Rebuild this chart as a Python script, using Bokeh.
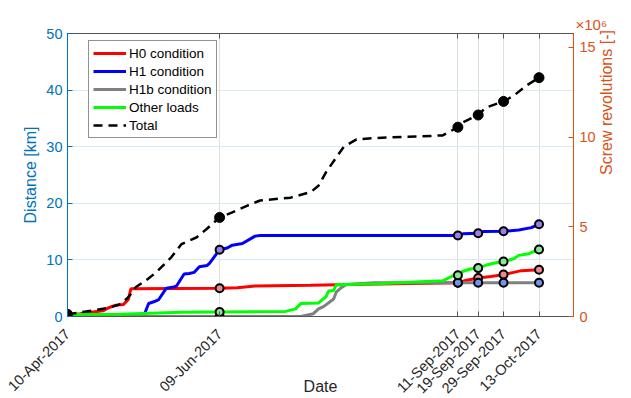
import math
import pandas as pd
from bokeh.plotting import figure
from bokeh.models import (Range1d, LinearAxis, DatetimeAxis, FixedTicker, DatetimeTickFormatter,
                          CustomJSTickFormatter, Legend, LegendItem)
from bokeh.embed import file_html
from bokeh.resources import INLINE

# ---------------- data (km) ----------------
tick_dates = ["2017-04-10", "2017-06-09", "2017-09-11", "2017-09-19", "2017-09-29", "2017-10-13"]
marker_dates = ["2017-06-09", "2017-09-11", "2017-09-19", "2017-09-29", "2017-10-13"]
total_marker_dates = ["2017-04-10"] + marker_dates

H0_dates = ["2017-04-10", "2017-04-15", "2017-04-20", "2017-04-24", "2017-04-26", "2017-04-29",
            "2017-05-02", "2017-05-04", "2017-05-05", "2017-06-09", "2017-06-16", "2017-06-23",
            "2017-07-15", "2017-08-05", "2017-09-11", "2017-09-14", "2017-09-19", "2017-09-24",
            "2017-09-29", "2017-10-03", "2017-10-06", "2017-10-13"]
H0_km = [0.3, 0.5, 0.8, 1.0, 1.5, 2.0, 2.1, 3.0, 4.9, 5.0, 5.1, 5.4, 5.5, 5.7, 5.95, 6.35,
         6.8, 7.05, 7.4, 7.8, 8.1, 8.25]

H1_dates = ["2017-04-10", "2017-05-10", "2017-05-12", "2017-05-14", "2017-05-16", "2017-05-19",
            "2017-05-22", "2017-05-23", "2017-05-26", "2017-05-28", "2017-05-30", "2017-06-01",
            "2017-06-04", "2017-06-05", "2017-06-09", "2017-06-12", "2017-06-14", "2017-06-18",
            "2017-06-23", "2017-06-25", "2017-09-11", "2017-09-13", "2017-09-19", "2017-09-21",
            "2017-09-29", "2017-10-05", "2017-10-10", "2017-10-13"]
H1_km = [0, 0, 2.3, 2.6, 3.0, 5.0, 5.2, 5.4, 7.5, 7.6, 7.8, 8.8, 9.0, 9.4, 11.8, 12.1, 12.6,
         12.9, 14.2, 14.3, 14.3, 14.6, 14.7, 15.0, 15.05, 15.3, 15.7, 16.3]

H1b_dates = ["2017-04-10", "2017-06-09", "2017-07-11", "2017-07-16", "2017-07-18", "2017-07-20",
             "2017-07-24", "2017-07-25", "2017-07-27", "2017-07-29", "2017-08-09", "2017-09-11",
             "2017-09-19", "2017-09-29", "2017-10-13"]
H1b_km = [0, 0, 0, 0.5, 1.35, 1.75, 3.1, 4.3, 5.1, 5.65, 5.95, 5.95, 5.95, 5.95, 5.95]

Other_dates = ["2017-04-10", "2017-05-01", "2017-05-25", "2017-06-09", "2017-07-05", "2017-07-09",
               "2017-07-11", "2017-07-18", "2017-07-21", "2017-07-22", "2017-07-24", "2017-07-25",
               "2017-08-10", "2017-09-05", "2017-09-09", "2017-09-11", "2017-09-13", "2017-09-16",
               "2017-09-19", "2017-09-23", "2017-09-27", "2017-09-29", "2017-10-03", "2017-10-05",
               "2017-10-09", "2017-10-13"]
Other_km = [0.35, 0.4, 0.75, 0.8, 0.9, 1.35, 2.3, 2.4, 3.5, 4.5, 4.6, 5.6, 5.8, 6.3, 7.2, 7.3,
            8.0, 8.4, 8.55, 9.2, 9.6, 9.7, 10.2, 10.8, 11.1, 11.85]

Total_dates = ["2017-04-10", "2017-04-20", "2017-04-26", "2017-05-01", "2017-05-04", "2017-05-07",
               "2017-05-11", "2017-05-15", "2017-05-21", "2017-05-25", "2017-05-31", "2017-06-04",
               "2017-06-09", "2017-06-14", "2017-06-20", "2017-06-25", "2017-07-07", "2017-07-15",
               "2017-07-18", "2017-07-21", "2017-07-25", "2017-07-28", "2017-08-02", "2017-08-12",
               "2017-08-26", "2017-09-05", "2017-09-11", "2017-09-13", "2017-09-19", "2017-09-22",
               "2017-09-29", "2017-10-03", "2017-10-08", "2017-10-13"]
Total_km = [0.4, 1.05, 1.5, 2.2, 3.4, 5.2, 6.4, 7.8, 10.5, 12.8, 14.0, 15.5, 17.5, 18.4, 19.6,
            20.5, 21.0, 22.0, 23.1, 25.5, 28.1, 30.0, 31.3, 31.6, 31.8, 32.0, 33.45, 34.3, 35.6,
            36.9, 38.0, 39.0, 40.8, 42.2]

left_ticks = [0, 10, 20, 30, 40, 50]
right_ticks = [0, 5e6, 10e6, 15e6]
rev_max = 15.77e6
days_span = 199.6

# ---------------- styling ----------------
FONT = "Liberation Sans"
AX_BLUE = "#0072BD"
AX_ORANGE = "#D95319"
DARK = "#262626"
BOX = "#555555"
TICK_FS = "14.5px"
LABEL_FS = "16px"


def dt(s):
    return pd.Timestamp(s).to_pydatetime()


def ms(ts):
    return pd.Timestamp(ts).timestamp() * 1000.0


def at(dates, vals, wanted):
    d = dict(zip(dates, vals))
    return [d[w] for w in wanted]


x0 = pd.Timestamp(tick_dates[0])
x1 = x0 + pd.Timedelta(days=days_span)

p = figure(width=631, height=398, x_axis_type="datetime", output_backend="svg",
           toolbar_location=None, x_range=Range1d(x0.to_pydatetime(), x1.to_pydatetime()),
           y_range=Range1d(0, 50), min_border_left=67, min_border_right=58,
           min_border_top=33, min_border_bottom=82)
p.background_fill_color = "white"
p.border_fill_color = "white"
p.outline_line_color = BOX
p.outline_line_width = 1

xt = FixedTicker(ticks=[ms(d) for d in tick_dates])
fmt = "%d-%b-%Y"
p.xaxis.ticker = xt
p.xaxis.formatter = DatetimeTickFormatter(microseconds=fmt, milliseconds=fmt, seconds=fmt,
                                          minsec=fmt, minutes=fmt, hourmin=fmt, hours=fmt,
                                          days=fmt, months=fmt, years=fmt)
p.xaxis.major_label_orientation = math.pi / 4
p.xaxis.major_label_text_font = FONT
p.xaxis.major_label_text_font_size = TICK_FS
p.xaxis.major_label_text_color = DARK
p.xaxis.axis_line_color = BOX
p.xaxis.major_tick_line_color = BOX
p.xaxis.major_tick_in = 5
p.xaxis.major_tick_out = 0
p.xaxis.minor_tick_line_color = None
p.xaxis.major_label_standoff = 15
p.xaxis.axis_label = "Date"
p.xaxis.axis_label_text_font = FONT
p.xaxis.axis_label_text_font_style = "normal"
p.xaxis.axis_label_text_font_size = LABEL_FS
p.xaxis.axis_label_text_color = DARK
p.xaxis.axis_label_standoff = -27

p.xgrid.ticker = xt
p.xgrid.grid_line_color = "#DFDFDF"
p.ygrid.grid_line_color = "#D9EAF5"

p.yaxis.ticker = FixedTicker(ticks=left_ticks)
p.yaxis.axis_label = "Distance [km]"
p.yaxis.axis_label_text_font = FONT
p.yaxis.axis_label_text_font_style = "normal"
p.yaxis.axis_label_text_font_size = LABEL_FS
p.yaxis.axis_label_text_color = AX_BLUE
p.yaxis.major_label_text_font = FONT
p.yaxis.major_label_text_font_size = TICK_FS
p.yaxis.major_label_text_color = AX_BLUE
p.yaxis.axis_line_color = AX_BLUE
p.yaxis.major_tick_line_color = AX_BLUE
p.yaxis.major_tick_in = 5
p.yaxis.major_tick_out = 0
p.yaxis.minor_tick_line_color = None
p.yaxis.major_label_standoff = 5
p.yaxis.axis_label_standoff = 4

p.extra_y_ranges = {"rev": Range1d(0, rev_max)}
rax = LinearAxis(y_range_name="rev", ticker=FixedTicker(ticks=right_ticks),
                 formatter=CustomJSTickFormatter(code="return (tick/1e6).toFixed(0)"),
                 axis_label="Screw revolutions [-]")
rax.axis_label_text_font = FONT
rax.axis_label_text_font_style = "normal"
rax.axis_label_text_font_size = LABEL_FS
rax.axis_label_text_color = AX_ORANGE
rax.major_label_text_font = FONT
rax.major_label_text_font_size = TICK_FS
rax.major_label_text_color = AX_ORANGE
rax.axis_line_color = AX_ORANGE
rax.major_tick_line_color = AX_ORANGE
rax.major_tick_in = 5
rax.major_tick_out = 0
rax.minor_tick_line_color = None
rax.major_label_standoff = 6
rax.axis_label_standoff = 8
try:
    rax.axis_label_orientation = math.pi / 2
except Exception:
    pass
p.add_layout(rax, "right")

tax = DatetimeAxis(ticker=xt, formatter=CustomJSTickFormatter(code="return ''"),
                   axis_line_color=BOX, major_tick_line_color=BOX, major_tick_in=5,
                   major_tick_out=0, minor_tick_line_color=None, major_label_standoff=0,
                   major_label_text_font_size="1px")
p.add_layout(tax, "above")

# exponent of the right axis, shown as MATLAB does above the axis
p.title.text = "×10⁶"
p.title.text_font = FONT
p.title.text_font_size = "15px"
p.title.text_font_style = "normal"
p.title.text_color = AX_ORANGE
p.title.align = "left"
p.title.offset = 508
p.title.standoff = 2

# ---------------- lines ----------------
r_h0 = p.line([dt(d) for d in H0_dates], H0_km, line_color="#FF0000", line_width=3)
r_h1 = p.line([dt(d) for d in H1_dates], H1_km, line_color="#0000FF", line_width=3)
r_h1b = p.line([dt(d) for d in H1b_dates], H1b_km, line_color="#808080", line_width=3)
r_oth = p.line([dt(d) for d in Other_dates], Other_km, line_color="#00FF00", line_width=3)
r_tot = p.line([dt(d) for d in Total_dates], Total_km, line_color="black", line_width=2.5,
               line_dash="9 6")

# ---------------- markers ----------------
mk_x = [dt(d) for d in marker_dates]
p.scatter(mk_x, at(H0_dates, H0_km, marker_dates), size=8, fill_color="#F0868F",
          line_color="black", line_width=2)
p.scatter(mk_x, at(H1_dates, H1_km, marker_dates), size=8, fill_color="#9A80E6",
          line_color="black", line_width=2)
p.scatter(mk_x, at(H1b_dates, H1b_km, marker_dates), size=8, fill_color="#6F95EE",
          line_color="black", line_width=2)
p.scatter(mk_x, at(Other_dates, Other_km, marker_dates), size=8, fill_color="#8AE897",
          line_color="black", line_width=2)
p.scatter([dt(d) for d in total_marker_dates], at(Total_dates, Total_km, total_marker_dates),
          size=10, fill_color="black", line_color="black", line_width=1)

# ---------------- legend ----------------
legend = Legend(items=[LegendItem(label="H0 condition", renderers=[r_h0]),
                       LegendItem(label="H1 condition", renderers=[r_h1]),
                       LegendItem(label="H1b condition", renderers=[r_h1b]),
                       LegendItem(label="Other loads", renderers=[r_oth]),
                       LegendItem(label="Total", renderers=[r_tot])],
                location=(21, 178))
legend.label_text_font = FONT
legend.label_text_font_size = "13.5px"
legend.label_text_color = "black"
legend.glyph_width = 33
legend.glyph_height = 16
legend.label_height = 16
legend.label_standoff = 3
legend.spacing = 2
legend.padding = 4
legend.margin = 0
legend.border_line_color = DARK
legend.border_line_width = 1
legend.background_fill_color = "white"
legend.background_fill_alpha = 1
p.add_layout(legend)

open("out.html", "w").write(file_html(p, INLINE))
